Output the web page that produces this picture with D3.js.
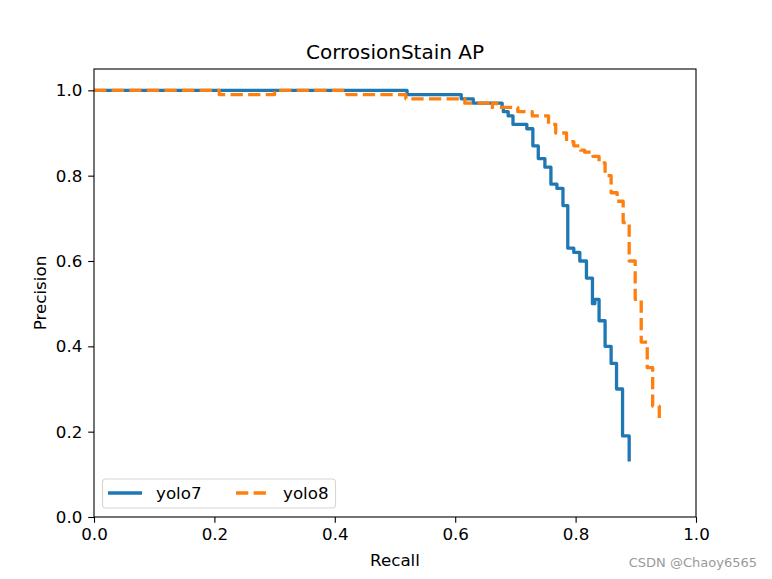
<!DOCTYPE html>
<html>
<head>
<meta charset="utf-8">
<script src="https://cdn.jsdelivr.net/npm/d3@7"></script>
<style>
  html, body { margin: 0; padding: 0; background: #fff; }
  svg { display: block; }
  text { font-family: "DejaVu Sans", sans-serif; }
</style>
</head>
<body>
<svg id="chart" width="772" height="579"></svg>
<script>
// ---- data ----
const title = "CorrosionStain AP";
const xLabel = "Recall";
const yLabel = "Precision";
const seriesNames = ["yolo7", "yolo8"];
const xTicks = [0.0, 0.2, 0.4, 0.6, 0.8, 1.0];
const yTicks = [0.0, 0.2, 0.4, 0.6, 0.8, 1.0];

const yolo7Recall = [0, 0.52, 0.61, 0.63, 0.678, 0.68, 0.688, 0.696, 0.719, 0.729, 0.738, 0.749, 0.759, 0.769, 0.779, 0.787, 0.797, 0.807, 0.818, 0.828, 0.832, 0.839, 0.849, 0.859, 0.868, 0.878, 0.889];
const yolo7Precision = [1.0, 0.99, 0.98, 0.97, 0.96, 0.95, 0.94, 0.92, 0.91, 0.87, 0.84, 0.82, 0.78, 0.77, 0.73, 0.63, 0.62, 0.60, 0.56, 0.50, 0.51, 0.46, 0.40, 0.36, 0.30, 0.19, 0.13];

const yolo8Recall = [0, 0.208, 0.30, 0.42, 0.518, 0.616, 0.658, 0.662, 0.669, 0.704, 0.728, 0.755, 0.767, 0.785, 0.797, 0.808, 0.815, 0.829, 0.839, 0.849, 0.859, 0.869, 0.879, 0.889, 0.899, 0.909, 0.919, 0.928, 0.939];
const yolo8Precision = [1.0, 0.99, 1.0, 0.99, 0.98, 0.97, 0.96, 0.97, 0.96, 0.95, 0.94, 0.92, 0.90, 0.88, 0.87, 0.86, 0.855, 0.845, 0.83, 0.80, 0.76, 0.74, 0.69, 0.60, 0.51, 0.41, 0.35, 0.26, 0.22];

// ---- layout ----
const svg = d3.select("#chart");
const L = 94, R = 696, T = 69, B = 517;
const x = d3.scaleLinear().domain([0, 1]).range([L, R]);
const y = d3.scaleLinear().domain([0, 1.05]).range([B, T]);
const FS = 16.7;

const colors = ["#1f77b4", "#ff7f0e"];
const line = d3.line().x(d => x(d[0])).y(d => y(d[1])).curve(d3.curveStepAfter);

const s7 = yolo7Recall.map((r, i) => [r, yolo7Precision[i]]);
const s8 = yolo8Recall.map((r, i) => [r, yolo8Precision[i]]);

svg.append("path").attr("d", line(s7))
  .attr("fill", "none").attr("stroke", colors[0]).attr("stroke-width", 3.3)
  .attr("stroke-linejoin", "round").attr("stroke-linecap", "butt");
svg.append("path").attr("d", line(s8))
  .attr("fill", "none").attr("stroke", colors[1]).attr("stroke-width", 3.3)
  .attr("stroke-dasharray", "12.3,5.3")
  .attr("stroke-linejoin", "round").attr("stroke-linecap", "butt");

// ---- axes ----
const xAxis = d3.axisBottom(x).tickValues(xTicks).tickFormat(d3.format(".1f")).tickSize(5.8).tickPadding(5.8);
const yAxis = d3.axisLeft(y).tickValues(yTicks).tickFormat(d3.format(".1f")).tickSize(5.8).tickPadding(5.8);

const gx = svg.append("g").attr("transform", `translate(0,${B})`).call(xAxis);
const gy = svg.append("g").attr("transform", `translate(${L},0)`).call(yAxis);
[gx, gy].forEach(g => {
  g.select(".domain").remove();
  g.selectAll(".tick line").attr("stroke", "#000").attr("stroke-width", 1.1);
  g.selectAll(".tick text").attr("font-size", FS).attr("fill", "#000")
    .attr("font-family", "DejaVu Sans, sans-serif");
});

// frame
svg.append("rect").attr("x", L).attr("y", T).attr("width", R - L).attr("height", B - T)
  .attr("fill", "none").attr("stroke", "#000").attr("stroke-width", 1.1);

// title & labels
svg.append("text").attr("x", (L + R) / 2).attr("y", 59).attr("text-anchor", "middle")
  .attr("font-size", 20).text(title);
svg.append("text").attr("x", (L + R) / 2).attr("y", 566).attr("text-anchor", "middle")
  .attr("font-size", FS).text(xLabel);
svg.append("text").attr("transform", `translate(46,${(T + B) / 2}) rotate(-90)`)
  .attr("text-anchor", "middle").attr("font-size", FS).text(yLabel);

// legend
const lg = svg.append("g");
lg.append("rect").attr("x", 102.5).attr("y", 479).attr("width", 233).attr("height", 29)
  .attr("rx", 3.5).attr("fill", "#fff").attr("fill-opacity", 0.8)
  .attr("stroke", "#d6d6d6").attr("stroke-width", 1.1);
const legendItems = [
  { name: seriesNames[0], color: colors[0], dash: null, x0: 108, tx: 156 },
  { name: seriesNames[1], color: colors[1], dash: "12.3,5.3", x0: 236, tx: 283 }
];
legendItems.forEach(it => {
  const ln = lg.append("line").attr("x1", it.x0).attr("x2", it.x0 + 34).attr("y1", 493).attr("y2", 493)
    .attr("stroke", it.color).attr("stroke-width", 3.3);
  if (it.dash) ln.attr("stroke-dasharray", it.dash);
  lg.append("text").attr("x", it.tx).attr("y", 499).attr("font-size", FS).text(it.name);
});

// watermark
svg.append("text").attr("x", 757).attr("y", 567).attr("text-anchor", "end")
  .attr("font-size", 13).attr("fill", "#9a9a9a").attr("font-family", "Liberation Sans, Arial, sans-serif")
  .text("CSDN @Chaoy6565");
</script>
</body>
</html>
